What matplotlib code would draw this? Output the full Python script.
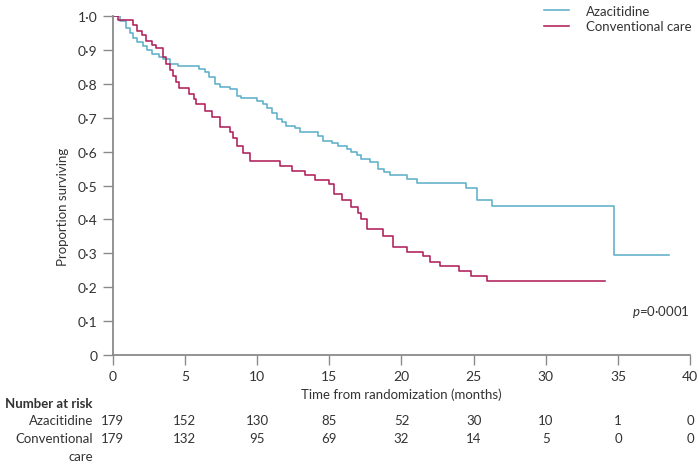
import numpy as np
import matplotlib
matplotlib.use('Agg')
import matplotlib.pyplot as plt
from matplotlib.ticker import FuncFormatter

plt.rcParams['font.family'] = ['Lato', 'DejaVu Sans']
plt.rcParams['mathtext.fontset'] = 'custom'
plt.rcParams['mathtext.it'] = 'Lato:italic'
plt.rcParams['mathtext.rm'] = 'Lato'

# step times (months) and survival after each step
aza_t = [0, 0.5, 0.9, 1.2, 1.4, 1.7, 2.1, 2.4, 2.7, 3.2, 3.5, 3.95, 4.5, 6.0, 6.4,
         6.7, 7.1, 7.4, 8.1, 8.6, 8.9, 10.0, 10.4, 10.7, 11.0, 11.4, 11.7, 12.0,
         12.6, 13.0, 14.2, 14.6, 15.2, 15.6, 16.2, 16.5, 16.9, 17.2, 17.8, 18.4,
         18.8, 19.2, 20.4, 21.1, 24.5, 25.2, 26.3, 34.7, 38.5]
aza_s = [1.0, 0.985, 0.965, 0.95, 0.937, 0.925, 0.913, 0.90, 0.888, 0.88, 0.873,
         0.858, 0.853, 0.845, 0.835, 0.82, 0.80, 0.79, 0.785, 0.765, 0.757, 0.75,
         0.74, 0.73, 0.715, 0.695, 0.688, 0.677, 0.67, 0.657, 0.645, 0.632, 0.625,
         0.617, 0.608, 0.599, 0.59, 0.578, 0.569, 0.549, 0.54, 0.531, 0.519, 0.507,
         0.492, 0.458, 0.44, 0.295, 0.295]

cc_t = [0, 0.35, 1.4, 1.7, 2.0, 2.3, 2.7, 3.0, 3.5, 3.7, 4.0, 4.2, 4.4, 4.6, 5.3,
        5.6, 5.8, 6.4, 6.9, 7.4, 8.1, 8.3, 8.6, 9.0, 9.5, 10.9, 11.6, 12.4, 13.3,
        14.0, 15.0, 15.3, 15.9, 16.5, 17.0, 17.2, 17.6, 18.7, 19.4, 20.4, 21.5,
        22.0, 22.7, 24.0, 24.8, 25.9, 34.1]
cc_s = [1.0, 0.99, 0.975, 0.957, 0.945, 0.928, 0.915, 0.905, 0.878, 0.858, 0.84,
        0.823, 0.805, 0.787, 0.77, 0.755, 0.74, 0.72, 0.702, 0.672, 0.657, 0.64,
        0.617, 0.595, 0.573, 0.572, 0.558, 0.542, 0.532, 0.515, 0.505, 0.475,
        0.458, 0.437, 0.42, 0.40, 0.372, 0.352, 0.318, 0.305, 0.293, 0.274, 0.263,
        0.249, 0.234, 0.218, 0.218]

risk_times = [0, 5, 10, 15, 20, 25, 30, 35, 40]
aza_risk = [179, 152, 130, 85, 52, 30, 10, 1, 0]
cc_risk = [179, 132, 95, 69, 32, 14, 5, 0, 0]

blue = '#5eafca'
red = '#b01f5a'
grey = '#8a8a8a'
txt = '#333333'

fig = plt.figure(figsize=(7, 4.64), dpi=100)
ax = fig.add_axes([0.161, 0.233, 0.825, 0.73])

ax.plot(aza_t, aza_s, drawstyle='steps-post', color=blue, lw=1.15, label='Azacitidine')
ax.plot(cc_t, cc_s, drawstyle='steps-post', color=red, lw=1.15, label='Conventional care')

ax.set_xlim(0, 40)
ax.set_ylim(0, 1.0)
ax.set_xticks(risk_times)
ax.set_yticks(np.arange(0, 1.01, 0.1))

def dotfmt(v, pos):
    if abs(v) < 1e-9:
        return '0'
    return ('%.1f' % v).replace('.', '\u00b7')

ax.yaxis.set_major_formatter(FuncFormatter(dotfmt))

for s in ['top', 'right']:
    ax.spines[s].set_visible(False)
for s in ['left', 'bottom']:
    ax.spines[s].set_color(grey)
    ax.spines[s].set_linewidth(1.3)
ax.tick_params(direction='out', length=7, width=1, color=grey, labelcolor=txt,
               labelsize=10, pad=4)

ax.set_ylabel('Proportion surviving', fontsize=9.5, color=txt)
ax.yaxis.set_label_coords(-0.076, 0.44)
ax.set_xlabel('Time from randomization (months)', fontsize=9.5, color=txt, labelpad=4)

leg = ax.legend(loc='upper left', bbox_to_anchor=(0.737, 1.05), frameon=False,
                fontsize=9.5, handlelength=1.9, handletextpad=1.3, labelspacing=0.3,
                borderaxespad=0)
for t in leg.get_texts():
    t.set_color(txt)

ax.text(1.0, 0.13, r'$p$=0·0001', transform=ax.transAxes, ha='right', va='center',
        fontsize=9.5, color=txt)

# number at risk table
fig.text(0.007, 1 - 404 / 464, 'Number at risk', fontsize=9.5, fontweight='bold',
         color=txt, va='center', ha='left')
fig.text(0.133, 1 - 421 / 464, 'Azacitidine', fontsize=9.5, color=txt, va='center', ha='right')
fig.text(0.133, 1 - 439 / 464, 'Conventional', fontsize=9.5, color=txt, va='center', ha='right')
fig.text(0.133, 1 - 457 / 464, 'care', fontsize=9.5, color=txt, va='center', ha='right')

for tm, a, c in zip(risk_times, aza_risk, cc_risk):
    xf = ax.transData.transform((tm, 0))[0] / fig.bbox.width
    fig.text(xf, 1 - 421 / 464, str(a), fontsize=9.5, color=txt, va='center', ha='center')
    fig.text(xf, 1 - 439 / 464, str(c), fontsize=9.5, color=txt, va='center', ha='center')

fig.savefig('out.png', dpi=100)
